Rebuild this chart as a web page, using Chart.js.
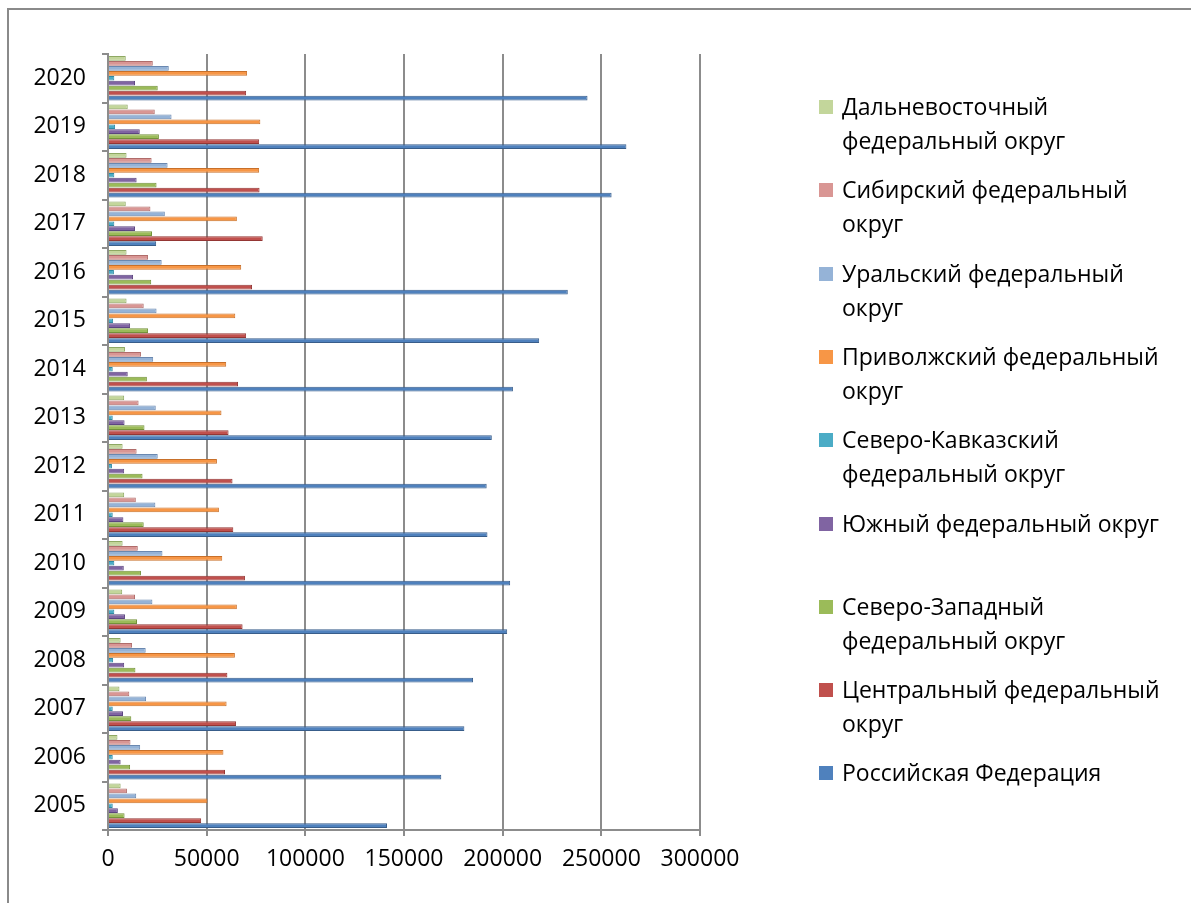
<!DOCTYPE html>
<html>
<head>
<meta charset="utf-8">
<script src="https://cdn.jsdelivr.net/npm/chart.js@4"></script>
<style>
  html, body { margin: 0; padding: 0; background: #fff; overflow: hidden; }
  #wrap { position: relative; width: 1191px; height: 903px; }
  #frame { position: absolute; left: 7px; top: 8px; width: 1300px; height: 1000px;
           border: 2px solid #8a8a8a; box-sizing: border-box; }
  #chart { position: absolute; left: 0; top: 0; }
  #legend { position: absolute; left: 819px; top: 0; font-family: "Open Sans", sans-serif;
            font-size: 23px; color: #000; }
  .item { position: absolute; left: 0; width: 360px; }
  .box { position: absolute; left: 0; top: 11px; width: 14px; height: 14px; }
  .txt { position: absolute; left: 23px; width: 330px; line-height: 34px; }
</style>
</head>
<body>
<div id="wrap">
  <div id="frame"></div>
  <canvas id="chart" width="1191" height="903"></canvas>
  <div id="legend"></div>
</div>
<script>
const years = ['2005', '2006', '2007', '2008', '2009', '2010', '2011', '2012',
               '2013', '2014', '2015', '2016', '2017', '2018', '2019', '2020'];

const xTicks = [0, 50000, 100000, 150000, 200000, 250000, 300000];

// series, 2005 .. 2020
const farEast     = [6400, 4800, 5800, 6400, 7200, 7400, 8200, 7400, 8200, 8600, 9400, 9400, 9000, 9400, 10000, 9000];
const siberia     = [9600, 11400, 10800, 12200, 13700, 15100, 14100, 14500, 15500, 16700, 18100, 20300, 21500, 22100, 23700, 22700];
const ural        = [14300, 16300, 19300, 19100, 22500, 27600, 24000, 25200, 24200, 22900, 24600, 27200, 28800, 30200, 32200, 30800];
const volga       = [50400, 58500, 60100, 64300, 65300, 57900, 56200, 55200, 57500, 59900, 64500, 67500, 65300, 76600, 77200, 70500];
const northCauc   = [2400, 2400, 2400, 2600, 3200, 3200, 2400, 2000, 2400, 2400, 2600, 3000, 3200, 3200, 3600, 3200];
const south       = [5000, 6400, 7600, 8200, 8600, 8000, 7800, 8200, 8400, 10000, 11200, 12700, 13700, 14500, 16100, 13700];
const northWest   = [8400, 11200, 11800, 13900, 14700, 16700, 18100, 17500, 18500, 19700, 20300, 21900, 22300, 24600, 25800, 25200];
const central     = [47200, 59300, 64900, 60500, 68200, 69400, 63500, 63100, 61100, 65900, 70000, 73000, 78400, 76800, 76600, 70000];
const russia      = [141400, 168900, 180600, 185000, 202300, 203800, 192300, 191900, 194500, 205200, 218500, 233000, 24400, 255200, 262700, 243000];

const names = [
  'Дальневосточный федеральный округ',
  'Сибирский федеральный округ',
  'Уральский федеральный округ',
  'Приволжский федеральный округ',
  'Северо-Кавказский федеральный округ',
  'Южный федеральный округ',
  'Северо-Западный федеральный округ',
  'Центральный федеральный округ',
  'Российская Федерация'
];
const series = [farEast, siberia, ural, volga, northCauc, south, northWest, central, russia];
const fills   = ['#c3d69b', '#d99694', '#95b3d7', '#f79646', '#4bacc6', '#8064a2', '#9bbb59', '#c0504d', '#4f81bd'];
const borders = ['#8ea863', '#b06c6a', '#6a88b0', '#c8702a', '#2f8aa3', '#5c4580', '#73923a', '#943634', '#385d8a'];

const font = { family: '"Open Sans", sans-serif', size: 23 };

new Chart(document.getElementById('chart'), {
  type: 'bar',
  data: {
    labels: years,
    datasets: series.map((d, i) => ({
      label: names[i],
      data: d,
      backgroundColor: fills[i],
      borderColor: borders[i],
      borderWidth: 1,
      categoryPercentage: 0.92,
      barPercentage: 0.95
    }))
  },
  options: {
    indexAxis: 'y',
    responsive: false,
    animation: false,
    layout: { padding: { top: 54, right: 491, bottom: 0, left: 0 } },
    plugins: { legend: { display: false }, tooltip: { enabled: false } },
    scales: {
      x: {
        min: 0,
        max: 300000,
        afterBuildTicks: (s) => { s.ticks = xTicks.map(v => ({ value: v })); },
        afterFit: (s) => { s.height = 73; },
        grid: { color: '#8c8c8c', lineWidth: 2, tickLength: 6 },
        border: { color: '#8c8c8c', width: 2 },
        ticks: { color: '#000', font: font, padding: 10, callback: (v) => String(v) }
      },
      y: {
        reverse: true,
        afterFit: (s) => { s.width = 108; },
        grid: { offset: true, drawOnChartArea: false, color: '#8c8c8c', lineWidth: 2, tickLength: 6 },
        border: { color: '#8c8c8c', width: 2 },
        ticks: { color: '#000', font: font, padding: 16 }
      }
    }
  }
});

// legend, one column, in dataset order
const legend = document.getElementById('legend');
names.forEach((n, i) => {
  const item = document.createElement('div');
  item.className = 'item';
  item.style.top = (89 + i * 83.3) + 'px';
  item.innerHTML = '<div class="box" style="background:' + fills[i] + '"></div><div class="txt">' + n + '</div>';
  legend.appendChild(item);
});
</script>
</body>
</html>
